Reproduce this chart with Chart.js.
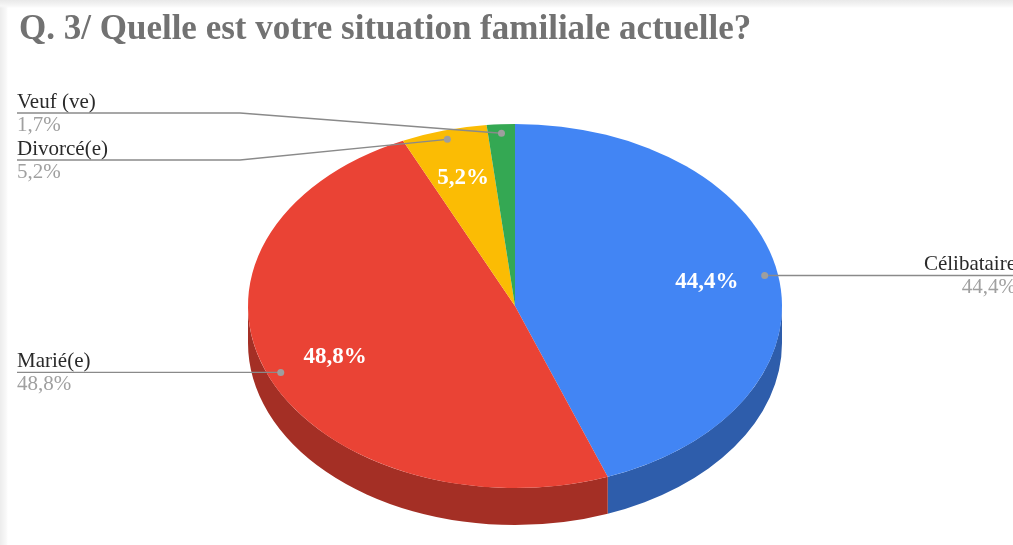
<!DOCTYPE html>
<html>
<head>
<meta charset="utf-8">
<script src="https://cdn.jsdelivr.net/npm/chart.js@4"></script>
<style>
    html, body { margin: 0; padding: 0; }
    body {
        width: 1013px;
        height: 545px;
        overflow: hidden;
        background:
            linear-gradient(to bottom, #e9e9e9 0px, #f7f7f7 6px, rgba(255,255,255,0) 8px),
            linear-gradient(to right, #ececec 0px, #f8f8f8 6px, #ffffff 8px);
    }
    #wrap { position: absolute; left: 0; top: 0; width: 1013px; height: 545px; }
</style>
</head>
<body>
<div id="wrap"><canvas id="pieChart" width="1013" height="545"></canvas></div>
<script>
const titleText = "Q. 3/ Quelle est votre situation familiale actuelle?";
const categories = ["Célibataire", "Marié(e)", "Divorcé(e)", "Veuf (ve)"];
const shares = [44.4, 48.8, 5.2, 1.7];

const topColors = ["#4285f4", "#ea4335", "#fbbc04", "#34a853"];
const sideColors = ["#2e5dab", "#a42f25", "#b08403", "#247539"];

// where each outside label goes; lineY null = straight line at the anchor height
const labelLayout = [
    { side: "right", lineY: null },
    { side: "left", lineY: null },
    { side: "left", lineY: 160 },
    { side: "left", lineY: 113 }
];

const fmt = v => v.toFixed(1).replace(".", ",") + "%";

const pie3d = {
    id: "pie3d",
    beforeDatasetsDraw(chart, args, opts) {
        const ctx = chart.ctx;
        const arcs = chart.getDatasetMeta(0).data;
        const cx = opts.centerX, cy = opts.centerY, k = opts.tilt;

        // extruded side of the front half
        arcs.forEach((arc, i) => {
            const p = arc.getProps(["startAngle", "endAngle", "outerRadius"], true);
            const s = Math.max(p.startAngle, 0);
            const e = Math.min(p.endAngle, Math.PI);
            if (e <= s) return;
            ctx.beginPath();
            ctx.ellipse(cx, cy, p.outerRadius, p.outerRadius * k, 0, s, e);
            ctx.ellipse(cx, cy + opts.depth, p.outerRadius, p.outerRadius * k, 0, e, s, true);
            ctx.closePath();
            ctx.fillStyle = sideColors[i];
            ctx.fill();
        });

        // squash the real pie into the top face
        ctx.save();
        ctx.translate(cx, cy);
        ctx.scale(1, k);
        ctx.translate(-arcs[0].x, -arcs[0].y);
    },
    afterDatasetsDraw(chart, args, opts) {
        const ctx = chart.ctx;
        ctx.restore();

        const arcs = chart.getDatasetMeta(0).data;
        const cx = opts.centerX, cy = opts.centerY, k = opts.tilt;
        const pt = (a, r) => [cx + r * Math.cos(a), cy + r * k * Math.sin(a)];

        arcs.forEach((arc, i) => {
            const p = arc.getProps(["startAngle", "endAngle", "outerRadius"], true);
            const mid = (p.startAngle + p.endAngle) / 2;
            const R = p.outerRadius;

            // value inside the slice
            if (shares[i] > 3) {
                const [lx, ly] = pt(mid, R * 0.73);
                ctx.font = "bold 23px 'Liberation Serif', serif";
                ctx.fillStyle = "#ffffff";
                ctx.textAlign = "center";
                ctx.textBaseline = "middle";
                ctx.fillText(fmt(shares[i]), lx, ly);
            }

            // leader line
            const [dx, dy] = pt(mid, R * 0.95);
            const lay = labelLayout[i];
            const lineY = lay.lineY === null ? dy : lay.lineY;
            ctx.strokeStyle = "#8a8a8a";
            ctx.lineWidth = 1.3;
            ctx.beginPath();
            let textX;
            if (lay.side === "left") {
                textX = 17;
                ctx.moveTo(textX, lineY);
                if (lay.lineY === null) {
                    ctx.lineTo(dx, dy);
                } else {
                    ctx.lineTo(240, lineY);
                    ctx.lineTo(dx, dy);
                }
            } else {
                textX = 1016;
                ctx.moveTo(dx, dy);
                ctx.lineTo(1013, lineY);
            }
            ctx.stroke();

            ctx.fillStyle = "#9e9e9e";
            ctx.beginPath();
            ctx.arc(dx, dy, 3.5, 0, Math.PI * 2);
            ctx.fill();

            ctx.textAlign = lay.side === "left" ? "left" : "right";
            ctx.textBaseline = "alphabetic";
            ctx.font = "21px 'Liberation Serif', serif";
            ctx.fillStyle = "#2a2a2a";
            ctx.fillText(categories[i], textX, lineY - 5);
            ctx.fillStyle = "#a0a0a0";
            ctx.fillText(fmt(shares[i]), textX, lineY + 18);
        });

        // title
        ctx.font = "bold 35px 'Liberation Serif', serif";
        ctx.fillStyle = "#727272";
        ctx.textAlign = "left";
        ctx.textBaseline = "alphabetic";
        ctx.fillText(titleText, 19, 39);
    }
};

const ctx = document.getElementById("pieChart").getContext("2d");
const pieChart = new Chart(ctx, {
    type: "pie",
    data: {
        labels: categories,
        datasets: [{
            data: shares,
            backgroundColor: topColors,
            borderWidth: 0,
            hoverOffset: 0,
            radius: 267,
            clip: false
        }]
    },
    options: {
        responsive: false,
        animation: false,
        events: [],
        layout: { padding: { left: 17, right: 0, top: 0, bottom: 0 } },
        plugins: {
            legend: { display: false },
            tooltip: { enabled: false },
            pie3d: { centerX: 515, centerY: 306, tilt: 0.682, depth: 37 }
        }
    },
    plugins: [pie3d]
});
</script>
</body>
</html>
